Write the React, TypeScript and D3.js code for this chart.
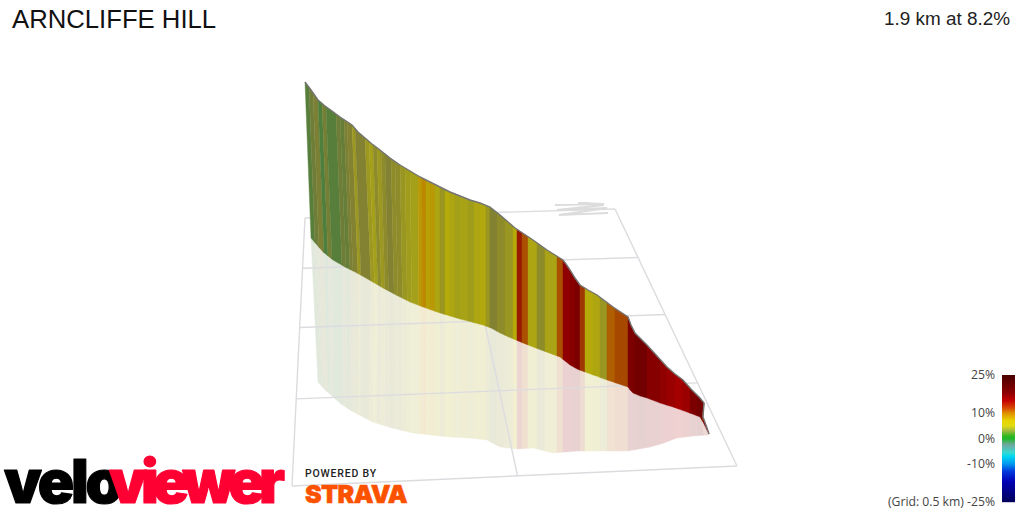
import React from "react";
import * as d3 from "d3";

const title = "ARNCLIFFE HILL";
const summary = "1.9 km at 8.2%";
const gridNote = "(Grid: 0.5 km)";

// Route stations (metres along the climb in the projected view) and projected profile
const crestStation = [0,30,65,100,135,175,235,265,300,335,375,425,475,525,575,625,675,725,775,825,875,925,975,1010,1050,1095,1140,1210,1250,1290,1305,1325,1350,1375,1415,1460,1500,1540,1615,1630,1650,1680,1710,1760,1810,1850,1890,1930,1975,2000,2015,2030,2045];
const crestEast = [0,30,65,100,135,175,235,265,300,335,375,425,475,525,575,625,675,725,775,825,875,925,975,1010,1050,1095,1140,1210,1250,1290,1305,1325,1350,1375,1415,1460,1500,1540,1615,1630,1650,1680,1710,1760,1810,1850,1890,1930,1975,1995,1990,2010,2020];
const crestHeight = [408,400,390,384,379,373,365,358,352,346,340,332,325,319,313,308,303,298,294,290,287,283,275,269,262,256,250,240,235,230,226,220,212,205,200,195,189,183,173,165,157,151,145,134,123,116,110,101,92,87,73,62,56];

const baseStation = [0,30,60,110,170,230,300,370,440,515,590,660,775,890,930,975,1030,1090,1180,1275,1300,1325,1360,1400,1510,1615,1625,1640,1675,1710,1775,1840,1910,1975,2015,2030,2045];
const baseEast = [30,60,90,140,200,260,330,390,455,525,590,660,775,890,930,975,1030,1090,1180,1275,1300,1325,1360,1400,1510,1615,1625,1640,1675,1710,1775,1840,1910,1975,1990,2010,2020];
const baseHeight = [252,245,238,230,223,217,209,202,195,188,183,178,171,165,162,157,152,147,140,133,129,125,121,118,110,103,100,97,94,92,87,83,78,73,68,60,56];

const groundStation = [0,35,70,105,145,190,250,320,420,535,630,725,820,910,975,1060,1140,1240,1360,1490,1610,1670,1725,1795,1860,1940,2020,2045];
const groundEast = [65,100,120,140,180,225,280,340,435,540,630,725,820,910,975,1060,1140,1240,1360,1490,1610,1670,1725,1795,1860,1940,2015,2020];
const groundHeight = [108,100,97,93,86,80,74,68,62,57,55,53,52,50,43,41,42,37,39,39,39,41,43,47,52,54,55,56];

// Gradient stripes: start station and gradient (%)
const stripeStart = [0,20,40,65,85,105,155,175,195,210,235,250,300,320,340,360,380,400,430,450,475,500,525,565,585,605,625,650,675,700,725,750,775,815,845,875,905,925,960,1000,1040,1060,1085,1115,1160,1200,1260,1290,1325,1350,1375,1400,1440,1475,1510,1550,1615,1650,1710,1775,1810,1850,1890,1925,1960,2000,2015,2030];
const stripeGrade = [1.5,3,4,1,3.5,1.5,3,2.5,4,4.5,5.6,4.5,5.6,6,5,5.6,5,4.5,5,5,5.5,5.8,6,8,9,7.5,8,6.5,5.5,7,6.5,6,6.2,5.8,6.5,6.8,5.5,4.5,5,5.5,7,14,11,6.5,5,6.3,11,17,18,19,12.5,7,6.6,5.5,10.5,11.5,19,20,18,17,16,15,16,19,20,13,19,16];
const climbEnd = 2045;

// Back-wall route trace
const traceEast = [1250,1495,1365,1495,1260,1510,1270,1515];
const traceHeight = [285,286,287,285,280,282,275,277];

// Grid in km
const gridRowsKm = [0, 0.5, 1, 1.5, 2];
const gridColsKm = [0, 0.5, 1];

// Legend
const legendTicks = [25, 10, 0, -10, -25];
const legendStops = [-25,-17,-13,-10,-7,-5.5,-2.5,0,1,3,5,7,10,12,15,18,25];
const legendColors = ["#00005a","#0000b4","#0038dc","#0098f0","#00d8f0","#38d8d0","#70a8a0","#20b828","#30b820","#a0b840","#e0dc10","#e8d400","#e09000","#d84800","#c40000","#8c0000","#480000"];
const wallStops = [1,3,4.5,6,7,9,11,13.5,15,19,25];
const wallColors = ["#4f7f3c","#6e7d37","#828232","#a5a019","#b4aa0a","#be8700","#aa5000","#962800","#a50000","#7d0000","#3c0000"];

const xScale = d3.scaleLinear().domain([0, 2020]).range([305, 709]);
const yScale = d3.scaleLinear().domain([0, 480]).range([490, 10]);
const gradeColor = d3.scaleLinear<string>().domain(wallStops).range(wallColors).clamp(true);
const legendColor = d3.scaleLinear<string>().domain(legendStops).range(legendColors).clamp(true);
const legendY = d3.scaleLinear().domain([25, -25]).range([375, 502]);

const pw = (dom: number[], rng: number[]) => d3.scaleLinear().domain(dom).range(rng);
const cx = pw(crestStation, crestEast), cy = pw(crestStation, crestHeight);
const bx = pw(baseStation, baseEast), by = pw(baseStation, baseHeight);
const gx = pw(groundStation, groundEast), gy = pw(groundStation, groundHeight);

const line = d3.line<[number, number]>().x((d) => xScale(d[0])).y((d) => yScale(d[1]));

function edgeStops(a: number, b: number): number[] {
  const all = [...crestStation, ...baseStation, ...groundStation].filter((s) => s > a && s < b);
  return [a, ...Array.from(new Set(all)).sort((p, q) => p - q), b];
}
function band(a: number, b: number, ux: any, uy: any, lx: any, ly: any) {
  const s = edgeStops(a, b);
  const top = s.map((d) => [ux(d), uy(d)] as [number, number]);
  const bot = s.map((d) => [lx(d), ly(d)] as [number, number]).reverse();
  return line([...top, ...bot]) + "Z";
}

// Perspective floor grid: unit square to the four floor corners
const corners = { a: [305, 218], b: [615, 209], c: [737, 466], d: [292, 486] };
function project(u: number, v: number): [number, number] {
  const { a, b, c, d } = corners;
  const dx1 = b[0] - c[0], dx2 = d[0] - c[0], sx = a[0] - b[0] + c[0] - d[0];
  const dy1 = b[1] - c[1], dy2 = d[1] - c[1], sy = a[1] - b[1] + c[1] - d[1];
  const det = dx1 * dy2 - dx2 * dy1;
  const g = (sx * dy2 - dx2 * sy) / det, h = (dx1 * sy - sx * dy1) / det;
  const A = b[0] - a[0] + g * b[0], B = d[0] - a[0] + h * d[0];
  const D = b[1] - a[1] + g * b[1], E = d[1] - a[1] + h * d[1];
  const w = g * u + h * v + 1;
  return [(A * u + B * v + a[0]) / w, (D * u + E * v + a[1]) / w];
}
const uScale = d3.scaleLinear().domain([0, 1]).range([0, 1]);
const vScale = d3.scaleLinear().domain([0, 2]).range([0, 1]);
const rawLine = d3.line<[number, number]>();

const stripes = stripeStart.map((s, i) => ({
  a: s,
  b: i + 1 < stripeStart.length ? stripeStart[i + 1] : climbEnd,
  c: gradeColor(stripeGrade[i]),
}));

export default function App() {
  const legendRows = d3.range(375, 502);
  const sans = "'Liberation Sans', Arial, sans-serif";
  const open = "'Open Sans', sans-serif";
  return (
    <svg width={1024} height={512} style={{ position: "absolute", left: 0, top: 0, background: "#fff" }}>
      <text x={12} y={28} fontFamily={sans} fontSize={25.7} fill="#111">{title}</text>
      <text x={1010} y={25} textAnchor="end" fontFamily={sans} fontSize={18.9} fill="#222">{summary}</text>

      {/* shadow */}
      {stripes.map((s, i) => {
        const f = d3.interpolateRgb("#ffffff", s.c)(0.18);
        return <path key={i} d={band(s.a, s.b, bx, by, gx, gy)} fill={f} stroke={f} strokeWidth={0.4} />;
      })}

      {/* floor grid */}
      <g fill="none" stroke="#dcdce0" strokeWidth={1.4}>
        {gridRowsKm.map((r) => (
          <path key={r} d={rawLine([project(0, vScale(r)), project(1, vScale(r))])!} />
        ))}
        {gridColsKm.map((c) => (
          <path key={c} d={rawLine([project(uScale(c), 0), project(uScale(c), 1)])!} />
        ))}
      </g>
      <path
        d={line(traceEast.map((e, i) => [e, traceHeight[i]] as [number, number]))!}
        fill="none" stroke="#dcdcdc" strokeWidth={1.8} strokeLinejoin="bevel"
      />

      {/* wall */}
      {stripes.map((s, i) => (
        <path key={i} d={band(s.a, s.b, cx, cy, bx, by)} fill={s.c} stroke={s.c} strokeWidth={0.4} />
      ))}
      <path
        d={line(crestStation.map((s) => [cx(s), cy(s)] as [number, number]))!}
        fill="none" stroke="#757575" strokeWidth={1.4}
      />

      {/* legend */}
      {legendRows.map((y) => (
        <rect key={y} x={1002} y={y} width={13} height={1.2} fill={legendColor(legendY.invert(y + 0.5))} />
      ))}
      {legendTicks.map((t) => (
        <text key={t} x={995} y={legendY(t) + 4} textAnchor="end" fontFamily={open} fontSize={12.2} fill="#444">
          {t === -25 ? `${gridNote} ${t}%` : `${t}%`}
        </text>
      ))}

      {/* logos */}
      <g fontFamily="Inter, Roboto, sans-serif" fontWeight={900} fontSize={60} strokeWidth={1.2} strokeLinejoin="round">
        <text x={4} y={503} fill="#000" stroke="#000" letterSpacing={-3.2}>velo</text>
        <text x={109} y={503} fill="#ff0033" stroke="#ff0033" letterSpacing={-6}>viewer</text>
      </g>
      <text x={305} y={477} fontFamily="Roboto, sans-serif" fontWeight={500} fontSize={10.5} letterSpacing={0.8} fill="#222">POWERED BY</text>
      <text x={305} y={503} fontFamily="Inter, Roboto, sans-serif" fontWeight={900} fontSize={25} letterSpacing={-0.6} fill="#fc5200" stroke="#fc5200" strokeWidth={0.5}>STRAVA</text>
    </svg>
  );
}
